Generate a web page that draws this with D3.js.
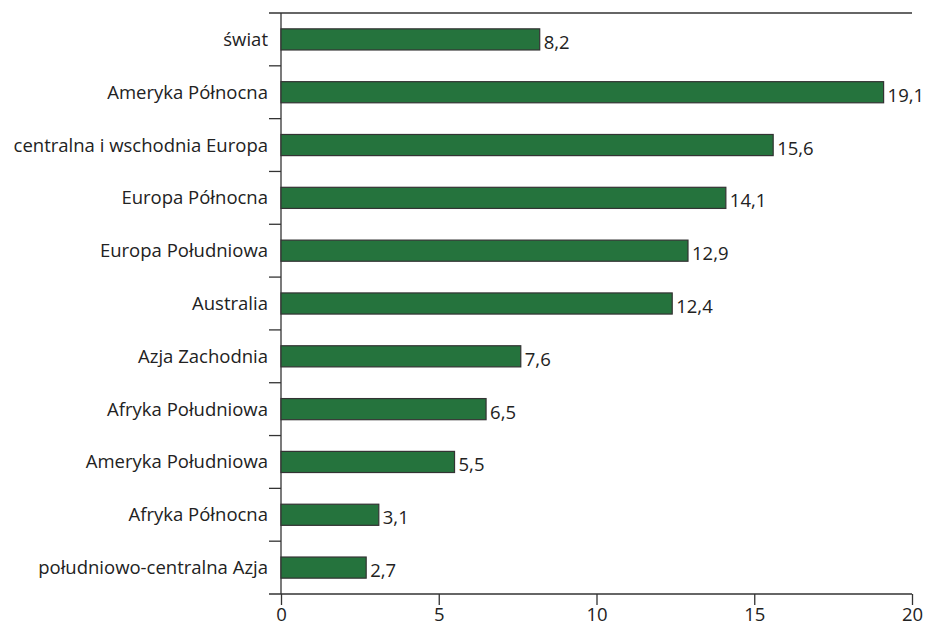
<!DOCTYPE html>
<html lang="pl">
<head>
<meta charset="UTF-8">
<title>Wykres</title>
<script src="https://cdn.jsdelivr.net/npm/d3@7"></script>
<style>
  body { margin: 0; background: #fff; }
  text { font-family: "Open Sans", "Noto Sans", sans-serif; fill: #222; }
</style>
</head>
<body>
<div id="container"></div>
<script>
const regions = ["świat", "Ameryka Północna", "centralna i wschodnia Europa", "Europa Północna",
  "Europa Południowa", "Australia", "Azja Zachodnia", "Afryka Południowa",
  "Ameryka Południowa", "Afryka Północna", "południowo-centralna Azja"];
const values = [8.2, 19.1, 15.6, 14.1, 12.9, 12.4, 7.6, 6.5, 5.5, 3.1, 2.7];
const xTicks = [0, 5, 10, 15, 20];

const width = 927, height = 628;
const plotLeft = 281, plotRight = 912, plotTop = 13, plotBottom = 594;

const svg = d3.select("#container").append("svg")
    .attr("width", width)
    .attr("height", height);

const x = d3.scaleLinear().domain([0, 20]).range([plotLeft, plotRight]);
const y = d3.scaleBand().domain(regions).range([plotTop, plotBottom]).paddingInner(0.6).paddingOuter(0.3);
const band = (plotBottom - plotTop) / regions.length;

// top line
svg.append("line")
    .attr("x1", plotLeft - 12).attr("x2", plotRight)
    .attr("y1", plotTop).attr("y2", plotTop)
    .attr("stroke", "#333").attr("stroke-width", 1.3);

// bottom axis
const xAxis = svg.append("g")
    .attr("transform", `translate(0,${plotBottom})`)
    .call(d3.axisBottom(x).tickValues(xTicks).tickSize(11).tickPadding(3).tickFormat(d3.format("d")));
xAxis.select(".domain").remove();
xAxis.selectAll(".tick line").attr("stroke", "#333").attr("stroke-width", 1.3);
xAxis.selectAll(".tick text").attr("font-size", 18.5).attr("font-family", null).attr("fill", "#222");
svg.append("line")
    .attr("x1", plotLeft - 12).attr("x2", plotRight)
    .attr("y1", plotBottom).attr("y2", plotBottom)
    .attr("stroke", "#333").attr("stroke-width", 1.3);

// left axis
svg.append("line")
    .attr("x1", plotLeft).attr("x2", plotLeft)
    .attr("y1", plotTop).attr("y2", plotBottom)
    .attr("stroke", "#333").attr("stroke-width", 1.3);
svg.append("g")
    .selectAll("line")
    .data(regions.slice(1))
    .join("line")
    .attr("x1", plotLeft - 12).attr("x2", plotLeft)
    .attr("y1", (d, i) => plotTop + band * (i + 1))
    .attr("y2", (d, i) => plotTop + band * (i + 1))
    .attr("stroke", "#333").attr("stroke-width", 1.3);

// bars
svg.append("g")
    .selectAll("rect")
    .data(values)
    .join("rect")
    .attr("x", x(0))
    .attr("y", (d, i) => y(regions[i]))
    .attr("width", d => x(d) - x(0))
    .attr("height", y.bandwidth())
    .attr("fill", "#25733d")
    .attr("stroke", "#333")
    .attr("stroke-width", 1.2);

// category labels
svg.append("g")
    .selectAll("text")
    .data(regions)
    .join("text")
    .attr("x", plotLeft - 13)
    .attr("y", d => y(d) + y.bandwidth() / 2)
    .attr("dy", "0.35em")
    .attr("text-anchor", "end")
    .attr("font-size", 18.5)
    .text(d => d);

// value labels
svg.append("g")
    .selectAll("text")
    .data(values)
    .join("text")
    .attr("x", d => x(d) + 4)
    .attr("y", (d, i) => y(regions[i]) + y.bandwidth() / 2 + 3)
    .attr("dy", "0.35em")
    .attr("font-size", 18.5)
    .text(d => d.toFixed(1).replace(".", ","));
</script>
</body>
</html>
